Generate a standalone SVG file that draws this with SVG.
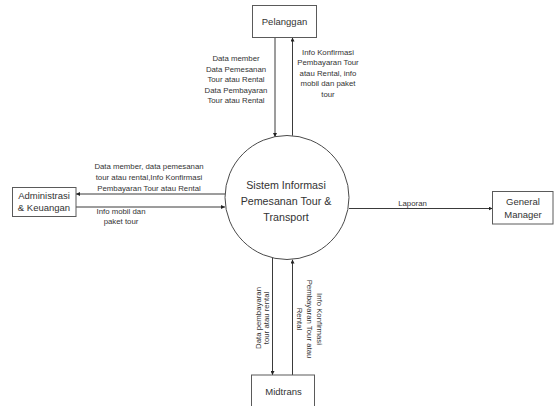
<svg xmlns="http://www.w3.org/2000/svg" width="554" height="406" viewBox="0 0 554 406">
  <style>
    .box { fill: #ffffff; stroke: #5a5a5a; stroke-width: 1; }
    .proc { fill: #ffffff; stroke: #4a4a4a; stroke-width: 1; }
    .flow { fill: none; stroke: #3a3a3a; stroke-width: 1; marker-end: url(#arrow); }
    text { font-family: "Liberation Sans", Arial, sans-serif; fill: #333333; }
    .name { font-size: 9.5px; text-anchor: middle; }
    .title { font-size: 10.7px; text-anchor: middle; }
    .lbl { font-size: 7.8px; text-anchor: middle; }
  </style>
  <defs>
    <marker id="arrow" viewBox="0 0 6 6" refX="6" refY="3" markerWidth="4" markerHeight="4" orient="auto" markerUnits="userSpaceOnUse">
      <path d="M0,0 L6,3 L0,6 z" fill="#222222"/>
    </marker>
  </defs>
  <rect width="554" height="406" fill="#ffffff"/>

  <!-- data flows -->
  <g id="connectors">
    <line class="flow" x1="275" y1="37.5" x2="275" y2="137"/>
    <line class="flow" x1="292.5" y1="136" x2="292.5" y2="37.5"/>
    <line class="flow" x1="225.5" y1="194" x2="76" y2="194"/>
    <line class="flow" x1="76" y1="207" x2="225" y2="207"/>
    <line class="flow" x1="349" y1="208.5" x2="492.5" y2="208.5"/>
    <line class="flow" x1="272.5" y1="258" x2="272.5" y2="375"/>
    <line class="flow" x1="292.5" y1="375" x2="292.5" y2="259.5"/>

    <g id="label-pelanggan-in">
      <text class="lbl" x="236" y="61">Data member</text>
      <text class="lbl" x="236" y="71.5">Data Pemesanan</text>
      <text class="lbl" x="236" y="82">Tour atau Rental</text>
      <text class="lbl" x="236" y="92.5">Data Pembayaran</text>
      <text class="lbl" x="236" y="103">Tour atau Rental</text>
    </g>
    <g id="label-pelanggan-out">
      <text class="lbl" x="328" y="55">Info Konfirmasi</text>
      <text class="lbl" x="328" y="65.4">Pembayaran Tour</text>
      <text class="lbl" x="328" y="75.8">atau Rental, info</text>
      <text class="lbl" x="328" y="86.2">mobil dan paket</text>
      <text class="lbl" x="328" y="96.6">tour</text>
    </g>
    <g id="label-admin-out">
      <text class="lbl" x="149" y="169">Data member, data pemesanan</text>
      <text class="lbl" x="149" y="180">tour atau rental,Info Konfirmasi</text>
      <text class="lbl" x="149" y="191">Pembayaran Tour atau Rental</text>
    </g>
    <g id="label-admin-in">
      <text class="lbl" x="121" y="214">Info mobil dan</text>
      <text class="lbl" x="121" y="224">paket tour</text>
    </g>
    <text class="lbl" x="412.5" y="205.5">Laporan</text>
    <g id="label-midtrans-in" transform="translate(260.5,318) rotate(-90)">
      <text class="lbl" x="0" y="0">Data pembayaran</text>
      <text class="lbl" x="0" y="8.5">tour atau rental</text>
    </g>
    <g id="label-midtrans-out" transform="translate(317,319) rotate(90)">
      <text class="lbl" x="0" y="0">Info Konfirmasi</text>
      <text class="lbl" x="0" y="10">Pembayaran Tour atau</text>
      <text class="lbl" x="0" y="20">Rental</text>
    </g>
  </g>

  <!-- central process -->
  <g id="sistem">
    <circle class="proc" cx="287" cy="197.5" r="62"/>
    <text class="title" x="286" y="189">Sistem Informasi</text>
    <text class="title" x="286" y="205">Pemesanan Tour &amp;</text>
    <text class="title" x="286" y="220.5">Transport</text>
  </g>

  <!-- external entities -->
  <g id="pelanggan">
    <rect class="box" x="252.5" y="5.5" width="64" height="32"/>
    <text class="name" x="284.5" y="25">Pelanggan</text>
  </g>
  <g id="administrasi">
    <rect class="box" x="12.5" y="187.5" width="63.5" height="29"/>
    <text class="name" x="44" y="198.5">Administrasi</text>
    <text class="name" x="44" y="211">&amp; Keuangan</text>
  </g>
  <g id="general-manager">
    <rect class="box" x="492.5" y="191.5" width="60.5" height="32.5"/>
    <text class="name" x="523" y="205">General</text>
    <text class="name" x="523" y="217.5">Manager</text>
  </g>
  <g id="midtrans">
    <rect class="box" x="251.5" y="375" width="63" height="40"/>
    <text class="name" x="283.5" y="395">Midtrans</text>
  </g>
</svg>
